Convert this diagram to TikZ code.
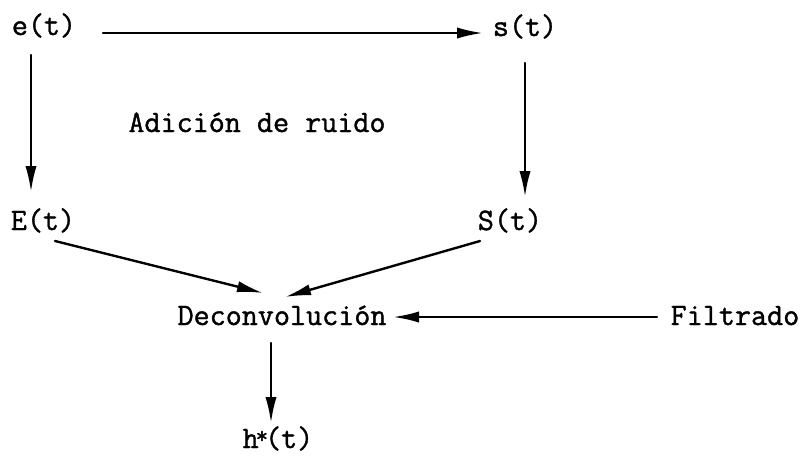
\documentclass[tikz,border=0pt]{standalone}
\usepackage{fontspec}
\newfontfamily\labelfont{Latin Modern Mono}[FakeBold=1.2]
\usetikzlibrary{arrows.meta}
\begin{document}
\begin{tikzpicture}[x=0.5pt,y=-0.5pt,
  lbl/.style={inner sep=0pt,anchor=base,font=\labelfont\fontsize{15.6pt}{18pt}\selectfont},
  arr/.style={line width=1.2pt,line cap=round,-{Latex[length=13pt,width=5.6pt]}}]
\useasboundingbox (0,0) rectangle (803,457);
\node[lbl] (e) at (44,35) {e(t)};
\node[lbl] (s) at (525,36) {s(t)};
\node[lbl] (ad) at (257,132) {Adición de ruido};
\node[lbl] (E) at (43,230) {E(t)};
\node[lbl] (S) at (510,230) {S(t)};
\node[lbl] (D) at (282,325) {Deconvolución};
\node[lbl] (F) at (735,325) {Filtrado};
\node[lbl] (h) at (278,448) {h\kern-1.5pt\raisebox{0.15em}{\fontsize{12pt}{12pt}\selectfont*}\kern-1.5pt(t)};
\draw[arr] ([shift={(59,-2)}]e.base) -- ([shift={(-42,-3)}]s.base);
\draw[arr] ([shift={(-13,20)}]e.base) -- ([shift={(-12,-38)}]E.base);
\draw[arr] ([shift={(0,27)}]s.base) -- ([shift={(15,-33)}]S.base);
\draw[arr] ([shift={(12,11)}]E.base) -- ([shift={(-19,-32)}]D.base);
\draw[arr] ([shift={(-30,11)}]S.base) -- ([shift={(3,-28)}]D.base);
\draw[arr] ([shift={(-78,-8)}]F.base) -- ([shift={(111,-8)}]D.base);
\draw[arr] ([shift={(-11,18)}]D.base) -- ([shift={(-7,-25)}]h.base);
\end{tikzpicture}
\end{document}
